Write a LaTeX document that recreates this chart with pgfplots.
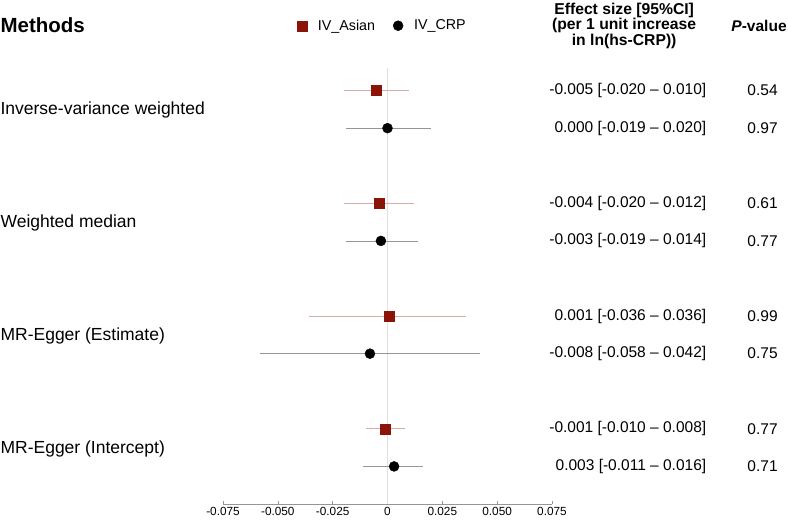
\documentclass[border=0pt]{standalone}
\usepackage{pgfplots}
\pgfplotsset{compat=1.18}
\usepackage{pgfplotstable}
\usepackage{fontspec}
\setmainfont{Liberation Sans}
\definecolor{asian}{RGB}{139,20,8}
\definecolor{asianci}{RGB}{212,175,170}
\definecolor{crpci}{RGB}{150,150,150}
\definecolor{axgray}{RGB}{150,150,150}
\definecolor{zerogray}{RGB}{225,225,225}

\pgfplotstableread{
est     y   em     ep
-0.005  11  0.015  0.015
-0.004  8   0.016  0.016
0.001   5   0.037  0.035
-0.001  2   0.009  0.009
}\asiandata
\pgfplotstableread{
est     y   em     ep
0.000   10  0.019  0.020
-0.003  7   0.016  0.017
-0.008  4   0.050  0.050
0.003   1   0.014  0.013
}\crpdata

\newcommand{\vf}{\fontsize{15.5bp}{18bp}\selectfont}
\newcommand{\mf}{\fontsize{17.5bp}{20bp}\selectfont}

\begin{document}
\begin{tikzpicture}
\path[use as bounding box] (0,0) rectangle (788bp,-523bp);
\begin{axis}[
  at={(223bp,-504bp)}, anchor=south west,
  scale only axis, width=329bp, height=436bp,
  xmin=-0.075, xmax=0.075, ymin=0, ymax=11.6,
  axis x line=bottom, axis y line=none,
  axis line style={axgray, line width=0.6pt, -},
  scaled x ticks=false,
  xtick={-0.075,-0.05,-0.025,0,0.025,0.05,0.075},
  xticklabels={-0.075,-0.050,-0.025,0,0.025,0.050,0.075},
  x tick label style={font=\fontsize{11.8bp}{13bp}\selectfont, /pgf/number format/assume math mode=true, inner sep=1bp, text depth=0pt, yshift=-2.5bp},
  tick align=inside, major tick length=3bp,
  tick style={axgray, line width=0.6pt},
  clip=false,
  legend columns=2,
  legend style={draw=none, fill=none, at={(0.215,1.097)}, anchor=west,
    font=\fontsize{14.3bp}{16bp}\selectfont,
    /tikz/every odd column/.append style={column sep=9bp},
    /tikz/every even column/.append style={column sep=16bp}},
  legend cell align=left,
]
\addplot[zerogray, line width=0.6pt, forget plot] coordinates {(0,0) (0,11.6)};
\addplot[only marks, mark=square*, mark size=5bp, mark options={fill=asian, draw=asian},
  error bars/.cd, x dir=both, x explicit, error mark=none,
  error bar style={asianci, line width=0.8pt}]
  table[x=est, y=y, x error minus=em, x error plus=ep]{\asiandata};
\addlegendentry{IV\_Asian}
\addplot[only marks, mark=*, mark size=5bp, mark options={fill=black, draw=black},
  error bars/.cd, x dir=both, x explicit, error mark=none,
  error bar style={crpci, line width=0.8pt}]
  table[x=est, y=y, x error minus=em, x error plus=ep]{\crpdata};
\addlegendentry{IV\_CRP}

% method labels
\node[anchor=west, inner sep=0, yshift=-1bp] at (axis cs:-0.1765,10.5) {\mf Inverse-variance weighted};
\node[anchor=west, inner sep=0, yshift=-1bp] at (axis cs:-0.1765,7.5) {\mf Weighted median};
\node[anchor=west, inner sep=0, yshift=-1bp] at (axis cs:-0.1765,4.5) {\mf MR-Egger (Estimate)};
\node[anchor=west, inner sep=0, yshift=-1bp] at (axis cs:-0.1765,1.5) {\mf MR-Egger (Intercept)};
% header
\node[anchor=west, inner sep=0] at (axis cs:-0.1765,12.73) {\fontsize{20.5bp}{24bp}\selectfont\bfseries Methods};
\node[align=center, inner sep=0] at (axis cs:0.1079,12.72) {\fontsize{15.7bp}{16.5bp}\selectfont\bfseries Effect size [95\%CI]\\ \fontsize{15.7bp}{16.5bp}\selectfont\bfseries (per 1 unit increase\\ \fontsize{15.7bp}{16.5bp}\selectfont\bfseries in ln(hs-CRP))};
\node[inner sep=0] at (axis cs:0.1694,12.72) {\fontsize{15.5bp}{18bp}\selectfont\bfseries\itshape P\upshape-value};
% effect sizes
\node[anchor=east, inner sep=0] at (axis cs:0.1454,11) {\vf -0.005 [-0.020 -- 0.010]};
\node[anchor=east, inner sep=0] at (axis cs:0.1454,10) {\vf 0.000 [-0.019 -- 0.020]};
\node[anchor=east, inner sep=0] at (axis cs:0.1454,8) {\vf -0.004 [-0.020 -- 0.012]};
\node[anchor=east, inner sep=0] at (axis cs:0.1454,7) {\vf -0.003 [-0.019 -- 0.014]};
\node[anchor=east, inner sep=0] at (axis cs:0.1454,5) {\vf 0.001 [-0.036 -- 0.036]};
\node[anchor=east, inner sep=0] at (axis cs:0.1454,4) {\vf -0.008 [-0.058 -- 0.042]};
\node[anchor=east, inner sep=0] at (axis cs:0.1454,2) {\vf -0.001 [-0.010 -- 0.008]};
\node[anchor=east, inner sep=0] at (axis cs:0.1454,1) {\vf 0.003 [-0.011 -- 0.016]};
% p-values
\node[inner sep=0] at (axis cs:0.1710,11) {\vf 0.54};
\node[inner sep=0] at (axis cs:0.1710,10) {\vf 0.97};
\node[inner sep=0] at (axis cs:0.1710,8) {\vf 0.61};
\node[inner sep=0] at (axis cs:0.1710,7) {\vf 0.77};
\node[inner sep=0] at (axis cs:0.1710,5) {\vf 0.99};
\node[inner sep=0] at (axis cs:0.1710,4) {\vf 0.75};
\node[inner sep=0] at (axis cs:0.1710,2) {\vf 0.77};
\node[inner sep=0] at (axis cs:0.1710,1) {\vf 0.71};
\end{axis}
\end{tikzpicture}
\end{document}
